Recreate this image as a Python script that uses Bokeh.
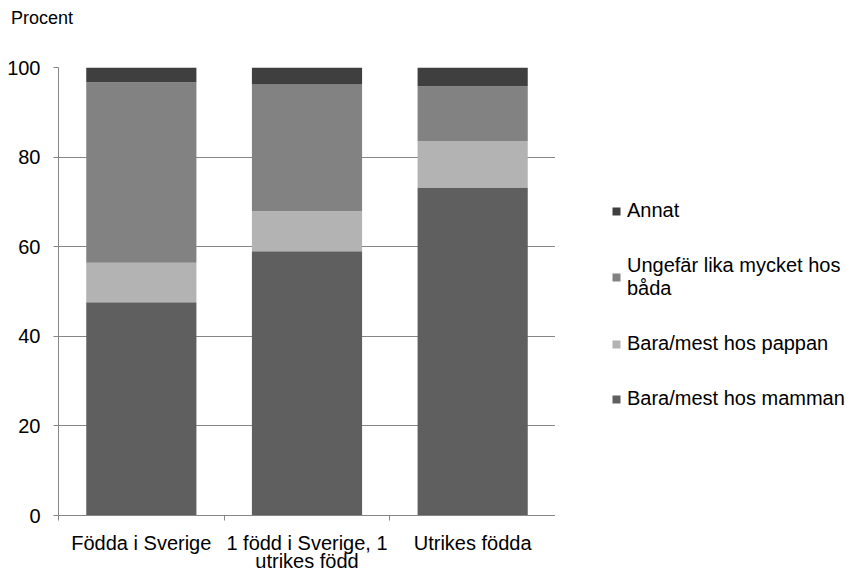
from bokeh.plotting import figure
from bokeh.models import Legend, LegendItem, FixedTicker, Div
from bokeh.layouts import row, column
from bokeh.embed import file_html
from bokeh.resources import INLINE

categories = ["Födda i Sverige", "1 född i Sverige, 1\nutrikes född", "Utrikes födda"]
series_names = ["Bara/mest hos mamman", "Bara/mest hos pappan",
                "Ungefär lika mycket hos\nbåda", "Annat"]
mamman = [47.6, 59.0, 73.2]
pappan = [8.8, 8.9, 10.4]
lika = [40.3, 28.3, 12.2]
annat = [3.3, 3.8, 4.2]
y_ticks = [0, 20, 40, 60, 80, 100]
y_title = "Procent"

colors = ["#5f5f5f", "#b3b3b3", "#828282", "#3f3f3f"]
FONT = "Liberation Sans"
FS = "20px"

xpos = [i + 0.5 for i in range(len(categories))]
data = {"x": xpos, "mamman": mamman, "pappan": pappan, "lika": lika, "annat": annat}
keys = ["mamman", "pappan", "lika", "annat"]

# header strip with the "Procent" label
t = Div(text=y_title, width=555, height=36, margin=0,
        styles={"font-family": FONT, "font-size": "18px", "color": "#000000",
                "padding-left": "11px", "line-height": "36px", "box-sizing": "border-box"})

p = figure(width=555, height=539, x_range=(0, len(categories)), y_range=(0, 100),
           output_backend="svg", toolbar_location=None,
           min_border_left=58, min_border_right=0, min_border_top=31, min_border_bottom=57)
p.outline_line_color = None

p.vbar_stack(keys, x="x", width=0.665, color=colors, line_color=None, source=data)

# axes
p.xaxis.ticker = FixedTicker(ticks=xpos, minor_ticks=list(range(len(categories) + 1)))
p.xaxis.major_label_overrides = {xpos[i]: categories[i] for i in range(len(categories))}
p.xaxis.major_tick_out = 0
p.xaxis.major_tick_in = 0
p.xaxis.minor_tick_out = 5
p.xaxis.minor_tick_in = 0
p.xaxis.major_label_standoff = 11
p.xaxis.major_label_text_line_height = 0.85
p.yaxis.ticker = FixedTicker(ticks=y_ticks)
p.yaxis.major_tick_out = 5
p.yaxis.major_tick_in = 0
p.yaxis.minor_tick_out = 0
p.yaxis.minor_tick_in = 0
p.yaxis.major_label_standoff = 13
for ax in (p.xaxis, p.yaxis):
    ax.axis_line_color = "#868686"
    ax.major_tick_line_color = "#868686"
    ax.minor_tick_line_color = "#868686"
    ax.major_label_text_font = FONT
    ax.major_label_text_font_size = FS
    ax.major_label_text_color = "#000000"

p.xgrid.visible = False
p.ygrid.grid_line_color = "#868686"
p.ygrid.grid_line_width = 1

# legend panel: a separate blank figure holding the legend
q = figure(width=308, height=575, x_range=(10, 11), y_range=(0, 100),
           output_backend="svg", toolbar_location=None,
           x_axis_location=None, y_axis_location=None, min_border=0)
q.outline_line_color = None
q.xgrid.visible = False
q.ygrid.visible = False
lrs = q.vbar_stack(keys, x="x", width=0.665, color=colors, line_color=None, source=data)
for r in lrs:
    r.visible = False

items = [LegendItem(label=series_names[i], renderers=[lrs[i]]) for i in range(4)][::-1]
legend = Legend(items=items, location=(56, 165), orientation="vertical",
                glyph_width=10, glyph_height=10, label_standoff=6, spacing=32,
                label_height=20, padding=0, margin=0, border_line_color=None,
                background_fill_alpha=0, label_text_line_height=0.83,
                inactive_fill_alpha=0,
                label_text_font=FONT, label_text_font_size=FS, label_text_color="#000000")
q.add_layout(legend, "center")

open("out.html", "w").write(file_html(row(column(t, p), q), INLINE))
